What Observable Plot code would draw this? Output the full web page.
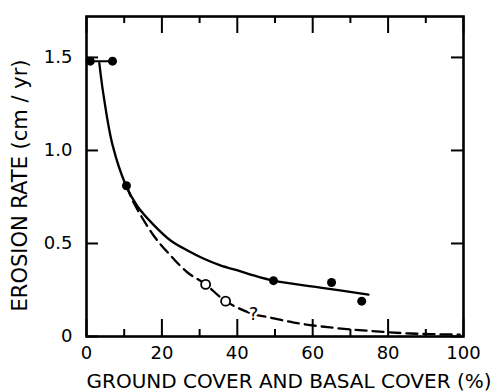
<!DOCTYPE html>
<html><head><meta charset="utf-8">
<script src="https://cdn.jsdelivr.net/npm/d3@7"></script>
<script src="https://cdn.jsdelivr.net/npm/@observablehq/plot@0.6"></script>
<style>body{margin:0;background:#fff} svg{font-family:"DejaVu Sans",sans-serif}</style>
</head><body><div id="chart"></div>
<script>
// Tick values and labels
const xTicks = [0, 20, 40, 60, 80, 100];
const xMinorTicks = [10, 30, 50, 70, 90];
const yTicks = [0, 0.5, 1.0, 1.5];
const yTickLabels = ["0", "0.5", "1.0", "1.5"];
const xLabel = "GROUND COVER AND BASAL COVER (%)";
const yLabel = "EROSION RATE (cm / yr)";

// Measured (filled) points
const measuredX = [1.0, 6.9, 10.6, 49.6, 65, 73];
const measuredY = [1.48, 1.48, 0.81, 0.30, 0.29, 0.19];
// Horizontal range at top
const rangeX = [1.0, 6.9];
const rangeY = [1.48, 1.48];
// Open circles
const openX = [31.6, 36.9];
const openY = [0.28, 0.19];
// Question mark
const questionX = [44.3];
const questionY = [0.12];
// Solid fitted curve
const solidX = [3.4, 4.5, 6.9, 10.5, 13.5, 17.8, 22.3, 26.8, 31, 35.5, 40.1, 44.3, 49.6, 62, 74.8];
const solidY = [1.47, 1.30, 1.03, 0.81, 0.70, 0.60, 0.516, 0.462, 0.419, 0.382, 0.355, 0.328, 0.30, 0.263, 0.225];
// Dashed curve
const dashX = [10.6, 12.5, 17.8, 22.3, 26.8, 31.6, 36.9, 44.3, 48, 55, 64, 75, 86, 99];
const dashY = [0.81, 0.72, 0.543, 0.435, 0.344, 0.28, 0.19, 0.12, 0.105, 0.075, 0.05, 0.03, 0.016, 0.01];

const W = 493, H = 392, mt = 16, mr = 30, mb = 56, ml = 86;
const innerW = W - ml - mr, innerH = H - mt - mb;
const major = 17, minor = 7, yTick = 12;
const pts = (X, Y) => X.map((x, i) => ({x, y: Y[i]}));

const chart = Plot.plot({
  width: W, height: H,
  marginTop: mt, marginRight: mr, marginBottom: mb, marginLeft: ml,
  x: {domain: [0, 100], axis: null},
  y: {domain: [0, 1.72], axis: null},
  marks: [
    // inward ticks
    Plot.ruleX(xTicks, {x: d => d, insetTop: innerH - major, strokeWidth: 2}),
    Plot.ruleX(xTicks, {x: d => d, insetBottom: innerH - major, strokeWidth: 2}),
    Plot.ruleX(xMinorTicks, {x: d => d, insetTop: innerH - minor, strokeWidth: 2}),
    Plot.ruleX(xMinorTicks, {x: d => d, insetBottom: innerH - minor, strokeWidth: 2}),
    Plot.ruleY(yTicks, {y: d => d, insetRight: innerW - yTick, strokeWidth: 2}),
    Plot.ruleY(yTicks, {y: d => d, insetLeft: innerW - yTick, strokeWidth: 2}),
    Plot.frame({stroke: "black", strokeWidth: 2.6}),
    // tick labels
    Plot.text(xTicks, {x: d => d, frameAnchor: "bottom", dy: 17, lineAnchor: "middle", text: d => String(d), fontSize: 18}),
    Plot.text(yTicks, {y: d => d, frameAnchor: "left", dx: -14, textAnchor: "end", lineAnchor: "middle", text: (d, i) => yTickLabels[i], fontSize: 18}),
    // axis labels
    Plot.text([xLabel], {frameAnchor: "bottom", dy: 45, dx: 14, textAnchor: "middle", lineAnchor: "middle", fontSize: 20}),
    Plot.text([yLabel], {frameAnchor: "left", dx: -66, dy: 9, textAnchor: "middle", lineAnchor: "middle", rotate: -90, fontSize: 21}),
    // curves
    Plot.line(pts(solidX, solidY), {x: "x", y: "y", curve: "catmull-rom", strokeWidth: 2.3}),
    Plot.line(pts(dashX, dashY), {x: "x", y: "y", curve: "catmull-rom", strokeWidth: 2.3, strokeDasharray: "11,6"}),
    Plot.line(pts(rangeX, rangeY), {x: "x", y: "y", strokeWidth: 2}),
    Plot.dot(pts(measuredX, measuredY), {x: "x", y: "y", r: 4.5, fill: "black"}),
    Plot.dot(pts(openX, openY), {x: "x", y: "y", r: 4.5, fill: "white", stroke: "black", strokeWidth: 1.8}),
    Plot.text(pts(questionX, questionY), {x: "x", y: "y", text: () => "?", fontSize: 18, fill: "black", stroke: "white", strokeWidth: 5})
  ]
});
document.getElementById("chart").appendChild(chart);
</script>
</body></html>
